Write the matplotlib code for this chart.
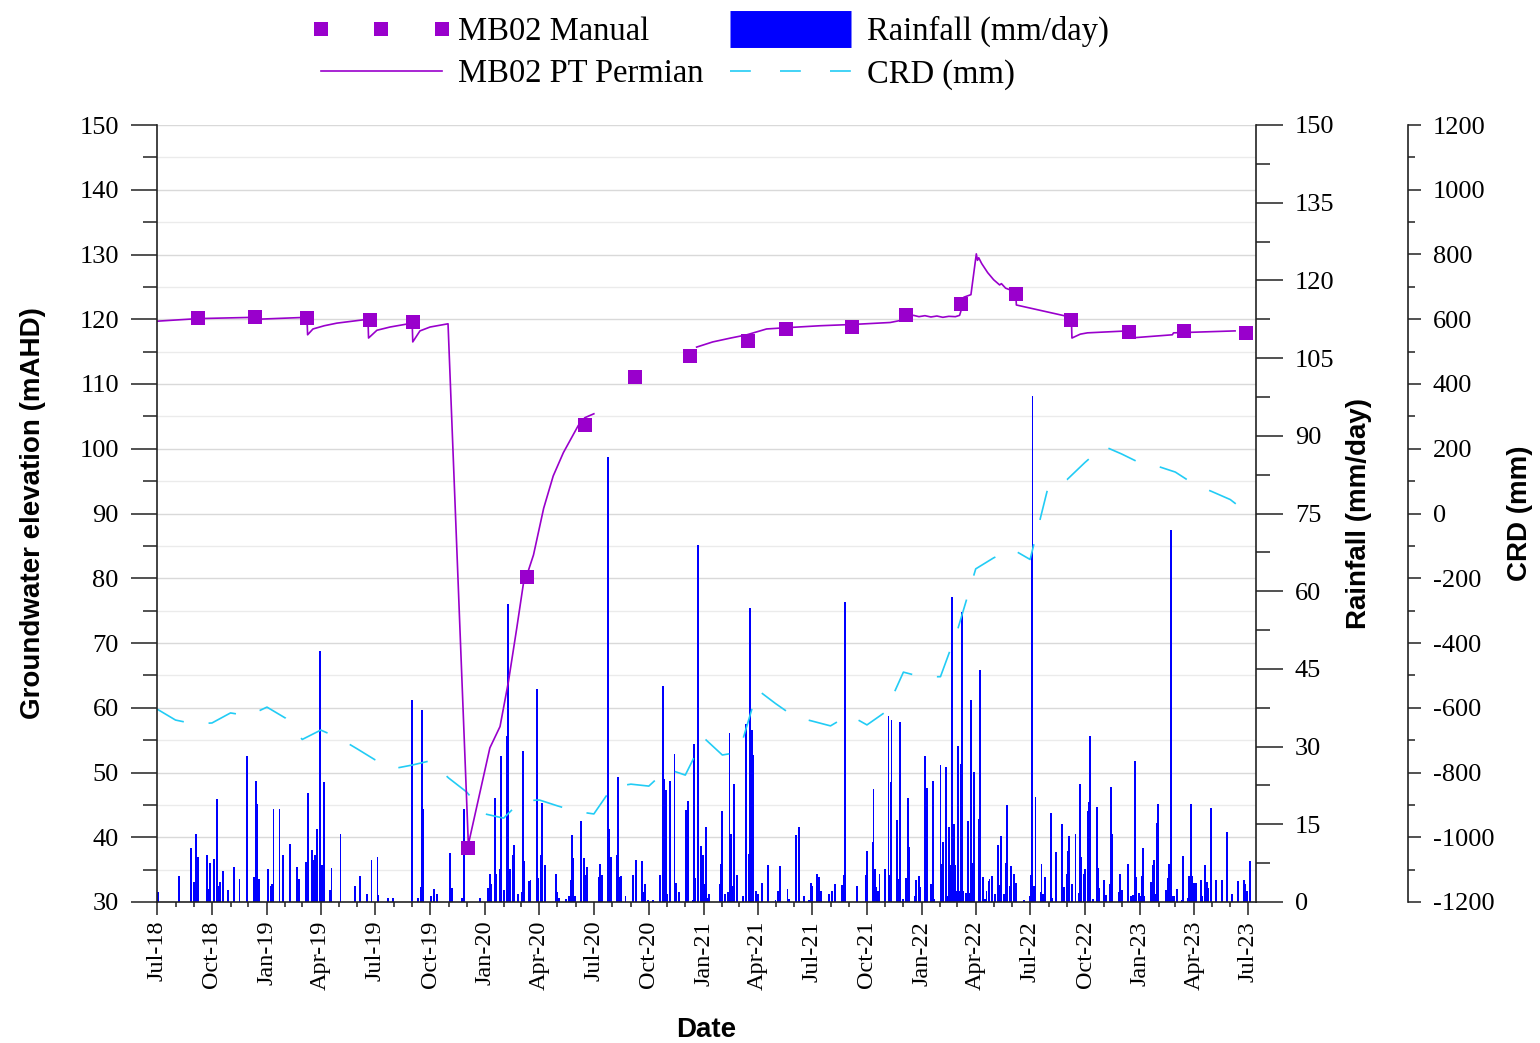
import matplotlib
matplotlib.use('Agg')
import matplotlib.pyplot as plt
import matplotlib.dates as mdates
from matplotlib.ticker import MultipleLocator
from matplotlib.lines import Line2D
import numpy as np
import pandas as pd

plt.rcParams['axes.unicode_minus'] = False

# day counts are days after 1 Jul 2018
start = pd.Timestamp('2018-07-01')

# manual dips (mAHD)
manual_day = [69, 164, 251, 356, 428, 520, 619, 716, 800, 892,
              989, 1053, 1163, 1254, 1346, 1438, 1530, 1627, 1719, 1823]
manual_level = [120.2, 120.3, 120.2, 119.9, 119.6, 38.3, 80.2, 103.7, 111.1, 114.3,
                116.6, 118.5, 118.8, 120.7, 122.4, 123.9, 119.9, 118.0, 118.2, 117.9]

# pressure transducer record (nan = logger gap)
pt_day = [0, 69, 164, 165, 167, 251, 252, 261, 280, 301, 353, 354, 368, 390, 427, 428,
          440, 457, 487, 521, 557, 574, 588, 602, 613, 619, 630, 647, 663, 680, 705,
          716, 731, 732,
          903, 930, 960, 987, 1020, 1054, 1110, 1165, 1227, 1254, 1256, 1266, 1275,
          1285, 1295, 1305, 1315, 1325, 1336, 1343, 1345, 1350, 1362, 1371, 1373,
          1375, 1380, 1390, 1400, 1410, 1413, 1420, 1437, 1438, 1530, 1531, 1545,
          1557, 1624, 1628, 1699, 1701, 1804]
pt_level = [119.7, 120.1, 120.3, 119.5, 120.0, 120.3, 117.6, 118.5, 119.0, 119.4, 120.0,
            117.1, 118.3, 118.8, 119.4, 116.5, 118.2, 118.8, 119.3, 38.9, 53.8, 57.1,
            64.0, 72.3, 79.1, 80.5, 83.6, 90.8, 95.8, 99.4, 103.6, 104.8, 105.4, np.nan,
            115.7, 116.5, 117.1, 117.6, 118.5, 118.7, 119.0, 119.2, 119.5, 120.0, 120.5,
            120.6, 120.4, 120.55, 120.35, 120.5, 120.3, 120.45, 120.4, 120.6, 121.2,
            123.4, 123.8, 130.1, 129.1, 129.5, 128.6, 127.2, 126.1, 125.3, 125.5, 124.8,
            124.2, 122.2, 120.3, 117.1, 117.7, 117.9, 118.2, 117.1, 117.6, 117.9, 118.2]

# cumulative rainfall departure, monthly (mm)
crd_month = pd.date_range('2018-07-01', '2023-07-01', freq='MS')
crd_mm = [-604, -638, -650, -647, -616, -625,
          -598, -632, -698, -669, -693, -727, -761, -788, -777, -764, -817, -860,
          -928, -941, -888, -885, -903, -920, -928, -845, -836, -842, -789, -808,
          -693, -746, -737, -545, -587, -627, -641, -656, -622, -653, -613, -490,
          -505, -504, -363, -171, -137, -110, -142, 88, 105, 158, 208, 184,
          156, 145, 128, 91, 68, 43, 0]

# daily rainfall (mm/day)
rain_day = [2, 37, 57, 62, 66, 69, 83, 86, 88, 96, 101, 103, 106, 111, 119, 129, 138,
            151, 163, 165, 166, 168, 170, 185, 190, 193, 195, 205, 211, 223, 235, 237,
            250, 252, 260, 262, 265, 267, 272, 276, 277, 279, 289, 292, 307, 332, 339,
            352, 359, 369, 370, 387, 395, 426, 427, 436, 442, 444, 446, 458, 463, 469,
            491, 493, 510, 513, 514, 541, 554, 557, 559, 566, 568, 574, 575, 576, 581,
            585, 586, 588, 590, 591, 596, 598, 604, 611, 613, 615,
            623, 625, 636, 637, 642, 644, 650, 667, 669, 673, 684, 690, 692, 694, 695,
            697, 699, 709, 710, 714, 717, 720, 740, 742, 744, 755, 757, 759, 769, 771,
            774, 776, 784, 796, 797, 801, 802, 812, 814, 817, 822, 830, 841, 846, 848,
            851, 853, 858, 859, 866, 869, 873, 885, 888, 896, 898, 900, 901, 905, 906,
            910, 911, 913, 915, 918, 920, 923, 942, 943, 946, 951, 955, 958, 960, 961,
            963, 965, 966, 970, 981, 985, 986, 990, 992, 993, 995, 997, 1003, 1005,
            1012, 1013, 1022, 1035, 1039, 1042, 1043, 1055, 1058, 1069, 1074, 1075,
            1082, 1091, 1094, 1096, 1104, 1106, 1107, 1111, 1112, 1124, 1129, 1134,
            1147, 1149, 1151, 1171, 1186, 1188, 1198, 1199, 1201, 1203, 1206, 1209,
            1218, 1224, 1226,
            1228, 1229, 1239, 1241, 1243, 1244, 1249, 1254, 1256, 1258, 1268, 1270,
            1275, 1276, 1285, 1288, 1295, 1296, 1298, 1300, 1311, 1313, 1315, 1316,
            1321, 1323, 1326, 1328, 1330, 1331, 1333, 1335, 1336, 1338, 1340, 1341,
            1343, 1345, 1347, 1348, 1353, 1357, 1360, 1362, 1363, 1365, 1367, 1368,
            1375, 1377, 1382, 1385, 1388, 1392, 1393, 1397, 1398, 1402, 1408, 1410,
            1412, 1413, 1418, 1420, 1422, 1427, 1429, 1434, 1437, 1451, 1460, 1462,
            1464, 1465, 1467, 1470, 1479, 1480, 1482, 1486, 1496, 1497, 1504, 1514,
            1517, 1522, 1524, 1526, 1531, 1537, 1542, 1544, 1546, 1551, 1553, 1558,
            1559, 1561, 1566, 1573, 1574, 1576, 1584, 1588, 1594, 1596, 1598, 1610,
            1611, 1615, 1625, 1630, 1633, 1635, 1636, 1638, 1643, 1646, 1648, 1650,
            1651, 1663, 1666, 1668, 1670, 1673, 1675, 1688, 1692, 1693, 1697, 1698,
            1700, 1702, 1707, 1715, 1717, 1725, 1727, 1730, 1732, 1735, 1737, 1738,
            1747, 1748, 1753, 1757, 1759, 1764, 1772, 1782, 1790, 1799, 1809, 1819,
            1821, 1824, 1829]
rain_mm = [1.9, 5.0, 10.4, 3.9, 13.1, 8.6, 9.0, 2.5, 7.6, 8.3, 19.8, 3.0, 3.9, 6.0, 2.4,
           6.8, 4.5, 28.1, 4.8, 11.5, 23.3, 19.0, 4.5, 6.3, 3.1, 3.4, 18.0, 18.0, 9.1,
           11.2, 6.8, 4.5, 7.8, 21.0, 10.0, 8.1, 9.1, 14.1, 48.4, 7.2, 5.0, 23.2, 2.3,
           6.6, 13.2, 3.1, 5.0, 1.5, 8.2, 8.6, 1.3, 0.7, 0.7, 38.9, 2.3, 0.7, 2.9, 37.0,
           17.9, 1.1, 2.6, 1.5, 9.5, 2.7, 0.7, 17.9, 7.3, 0.7, 2.7, 5.5, 3.5, 20.0, 5.5,
           6.4, 28.1, 3.4, 2.3, 15.2, 32.0, 57.5, 6.4, 5.0, 9.1, 11.0, 1.6, 1.9, 29.1,
           7.9,
           4.1, 4.3, 41.1, 4.6, 9.1, 19.1, 7.2, 5.5, 2.0, 0.8, 0.5, 1.1, 4.3, 12.9, 3.3,
           8.4, 1.1, 8.4, 15.7, 8.4, 5.3, 6.8, 4.8, 7.4, 5.3, 86.0, 14.0, 8.6, 9.0, 24.1,
           4.8, 5.0, 1.1, 5.3, 2.7, 8.2, 1.9, 8.0, 1.9, 3.5, 0.4, 0.4, 5.3, 41.7, 23.7,
           21.7, 1.6, 23.3, 0.5, 28.6, 3.6, 2.0, 17.7, 19.5, 0.4, 30.5, 1.5, 4.6, 68.9,
           4.6, 5.5, 10.9, 9.1, 3.4, 14.4, 0.7, 1.6, 3.4, 7.3, 17.5, 1.6, 1.9, 32.7, 3.1,
           13.2, 3.0, 22.8, 3.0, 5.3, 1.1, 13.6, 34.4, 9.3, 41.9, 56.8, 33.2, 28.4, 2.2,
           1.5, 3.7, 0.7, 7.2, 0.4, 2.2, 6.9, 0.7, 2.5, 0.5, 13.0, 14.4, 11.1, 1.1, 0.4,
           3.7, 3.1, 5.5, 1.1, 4.8, 2.2, 2.2, 1.5, 2.2, 3.4, 3.2, 5.3, 57.9, 3.0, 5.3,
           9.9, 11.6, 21.9, 6.3, 2.8, 2.1, 5.5, 6.4, 36.0, 5.3,
           23.2, 35.2, 15.8, 4.4, 25.3, 34.8, 0.6, 4.6, 20.0, 10.7, 1.1, 4.3, 5.0, 2.8,
           28.1, 22.0, 3.4, 1.7, 23.3, 0.5, 26.4, 7.4, 11.6, 7.2, 26.0, 1.1, 14.4, 7.2,
           58.8, 20.2, 15.0, 7.2, 3.6, 2.2, 18.5, 30.1, 2.2, 26.6, 56.0, 2.2, 1.7, 15.7,
           1.7, 38.9, 1.9, 7.6, 25.1, 10.1, 16.0, 44.8, 4.8, 0.5, 2.1, 4.0, 4.5, 2.5,
           5.0, 1.5, 11.1, 3.2, 12.8, 1.9, 1.5, 7.6, 18.7, 3.0, 6.9, 5.5, 3.6, 0.4, 1.1,
           5.3, 67.4, 97.7, 3.0, 20.2, 1.9, 7.3, 1.5, 4.8, 17.1, 0.7, 9.7, 15.0, 2.8,
           5.5, 9.9, 12.8, 3.4, 13.1, 1.7, 22.8, 8.6, 5.5, 6.4, 17.5, 19.3, 32.0, 0.6,
           18.4, 6.6, 2.7, 4.3, 1.3, 3.4, 22.2, 13.2, 2.0, 5.5, 2.4, 7.3, 1.1, 1.3, 1.1,
           27.3, 4.8, 1.7, 1.1, 5.0, 10.4, 1.1, 3.9, 7.2, 8.1, 1.5, 15.2, 19.0, 2.4, 4.7,
           7.3, 71.9, 0.7, 1.1, 1.1, 2.5, 0.4, 8.8, 0.7, 5.0, 19.0, 5.0, 3.6, 1.3, 3.6,
           4.3, 1.1, 7.2, 3.9, 2.7, 18.2, 4.3, 4.3, 13.6, 1.5, 4.1, 4.3, 3.4, 2.1, 7.9]

manual_dates = start + pd.to_timedelta(manual_day, unit='D')
pt_dates = start + pd.to_timedelta(pt_day, unit='D')
rain_dates = start + pd.to_timedelta(rain_day, unit='D')

purple = '#9900cc'
cyan = '#22ccf5'
serif = 'Liberation Serif'
sans = 'Liberation Sans'

fig = plt.figure(figsize=(15.4, 10.43), dpi=100)
ax1 = fig.add_axes([157 / 1540, 1 - 902 / 1043, 1099 / 1540, 777 / 1043])
ax_rain = ax1.twinx()
ax_crd = ax1.twinx()

ax_rain.set_zorder(1)
ax_crd.set_zorder(2)
ax1.set_zorder(3)
ax_rain.patch.set_visible(True)
ax_rain.patch.set_facecolor('white')
ax1.patch.set_visible(False)
ax_crd.patch.set_visible(False)

# gridlines of the left scale, drawn behind the bars
for g in range(35, 151, 5):
    ax_rain.plot([0, 1], [g, g], transform=ax1.get_yaxis_transform(),
                 color='#d9d9d9' if g % 10 == 0 else '#ebebeb', lw=1.0, zorder=0)

ax_rain.bar(rain_dates, rain_mm, width=3.2, color='#0000ff', linewidth=0, zorder=2)
ax_crd.plot(crd_month, crd_mm, color=cyan, lw=1.2, dashes=(18, 15))
ax1.plot(pt_dates, pt_level, color=purple, lw=1.2)
ax1.plot(manual_dates, manual_level, ls='none', marker='s', ms=10.5, color=purple,
         markeredgewidth=0)

ax1.set_xlim(pd.Timestamp('2018-07-01'), pd.Timestamp('2023-07-14'))
ax1.set_ylim(30, 150)
ax_rain.set_ylim(0, 150)
ax_crd.set_ylim(-1200, 1200)

ax1.xaxis.set_major_locator(mdates.MonthLocator(bymonth=[1, 4, 7, 10]))
ax1.xaxis.set_minor_locator(mdates.MonthLocator())
ax1.xaxis.set_major_formatter(mdates.DateFormatter('%b-%y'))
ax1.yaxis.set_major_locator(MultipleLocator(10))
ax1.yaxis.set_minor_locator(MultipleLocator(5))
ax_rain.yaxis.set_major_locator(MultipleLocator(15))
ax_rain.yaxis.set_minor_locator(MultipleLocator(7.5))
ax_crd.yaxis.set_major_locator(MultipleLocator(200))
ax_crd.yaxis.set_minor_locator(MultipleLocator(100))

for a in (ax1, ax_rain, ax_crd):
    for s in a.spines.values():
        s.set_visible(False)
ax1.spines['left'].set_visible(True)
ax1.spines['bottom'].set_visible(True)
ax_rain.spines['right'].set_visible(True)
ax_crd.spines['right'].set_visible(True)
ax_crd.spines['right'].set_position(('axes', 1.138))
for s in (ax1.spines['left'], ax1.spines['bottom'], ax_rain.spines['right'],
          ax_crd.spines['right']):
    s.set_linewidth(1.2)
    s.set_color('#222222')

ax1.tick_params(axis='y', which='major', direction='out', length=19, width=1.1,
                pad=8.5, labelsize=19, color='#222222')
ax1.tick_params(axis='y', which='minor', direction='out', length=10, width=1.1,
                color='#222222')
ax1.tick_params(axis='x', which='major', direction='out', length=9.5, width=1.1,
                pad=4, labelsize=17.5, labelrotation=90, color='#222222')
ax1.tick_params(axis='x', which='minor', direction='out', length=3.6, width=1.1,
                color='#222222')
ax_rain.tick_params(axis='y', which='major', direction='out', length=19.4, width=1.1,
                    pad=8.6, labelsize=19, color='#222222')
ax_rain.tick_params(axis='y', which='minor', direction='out', length=10, width=1.1,
                    color='#222222')
ax_crd.tick_params(axis='y', which='major', direction='out', length=9.4, width=1.1,
                   pad=8.6, labelsize=19, color='#222222')
ax_crd.tick_params(axis='y', which='minor', direction='out', length=5, width=1.1,
                   color='#222222')
for a in (ax_rain, ax_crd):
    a.tick_params(axis='x', which='both', bottom=False, labelbottom=False)

for lab in (ax1.get_xticklabels() + ax1.get_yticklabels() + ax_rain.get_yticklabels()
            + ax_crd.get_yticklabels()):
    lab.set_family(serif)

lab_kw = dict(fontsize=20, fontweight='bold', family=sans)
ax1.set_ylabel('Groundwater elevation (mAHD)', **lab_kw)
ax1.yaxis.set_label_coords(-0.101, 0.5)
ax_rain.set_ylabel('Rainfall (mm/day)', **lab_kw)
ax_rain.yaxis.set_label_coords(1.082, 0.5)
ax_crd.set_ylabel('CRD (mm)', **lab_kw)
ax_crd.yaxis.set_label_coords(1.228, 0.5)
ax1.set_xlabel('Date', **lab_kw)
ax1.xaxis.set_label_coords(0.4995, -0.148)

# the rainfall key is a thick butt-capped stroke so it matches the line keys in length
handles = [
    Line2D([], [], ls='none', marker='s', ms=10.5, color=purple, markeredgewidth=0),
    Line2D([], [], color=purple, lw=1.2),
    Line2D([], [], color='#0000ff', lw=26.6, solid_capstyle='butt'),
    Line2D([], [], color=cyan, lw=1.2, dashes=(12.5, 17.5)),
]
labels = ['MB02 Manual', 'MB02 PT Permian', 'Rainfall (mm/day)', 'CRD (mm)']
fig.legend(handles, labels, loc='upper left', bbox_to_anchor=(298 / 1540, 0.997),
           borderaxespad=0, ncol=2, frameon=False, numpoints=3, handlelength=4.31,
           handletextpad=0.2, columnspacing=0.5, labelspacing=0.36,
           prop={'family': serif, 'size': 23.5})

fig.savefig('out.png', dpi=100)
